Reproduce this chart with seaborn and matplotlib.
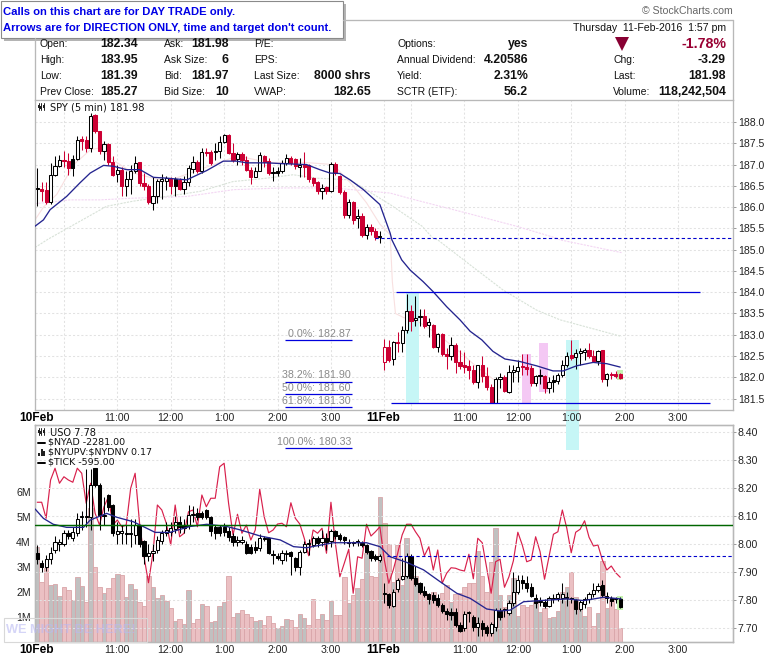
import numpy as np
import pandas as pd
import seaborn as sns
import matplotlib
matplotlib.use("Agg")
import matplotlib.pyplot as plt
from matplotlib.patches import Rectangle

# SPY 5 min bars, 10 Feb then 11 Feb
spy_open = [186.43,186.41,186.41,186.12,186.75,186.97,187.10,187.08,187.13,187.13,187.58,187.58,187.39,188.17,187.78,187.31,187.49,187.06,186.78,186.88,
            186.49,186.66,186.84,187.06,186.57,186.50,186.10,186.25,186.62,186.62,186.66,186.66,186.64,186.43,186.60,186.90,187.05,186.84,187.29,187.30,
            187.30,187.33,187.54,187.70,187.27,187.12,187.25,187.10,186.88,186.70,186.86,187.20,187.09,186.82,186.84,186.84,187.04,187.16,187.13,186.95,
            187.00,186.98,186.68,186.58,186.37,186.48,186.38,187.02,186.72,186.36,185.82,186.13,185.74,185.78,185.35,185.53,185.43,185.33,
            182.35,182.71,182.43,182.84,182.80,183.10,183.55,183.35,183.41,183.44,183.22,183.22,182.72,183.02,182.55,182.50,182.75,182.35,182.28,182.27,
            182.16,181.90,182.28,182.03,181.77,181.39,181.96,182.00,181.65,182.12,182.14,182.27,182.25,182.23,181.86,182.04,182.03,181.76,181.92,181.92,
            182.05,182.29,182.53,182.47,182.58,182.59,182.65,182.49,182.39,182.63,181.96,182.08,182.08,182.07]
spy_close = [186.43,186.39,186.11,186.76,186.97,187.10,187.08,186.92,186.92,187.58,187.56,187.39,188.15,187.78,187.31,187.49,187.06,186.76,186.88,186.49,
             186.66,186.84,187.04,186.57,186.49,186.11,186.25,186.62,186.65,186.68,186.49,186.49,186.43,186.60,186.92,187.05,186.84,187.29,187.26,187.04,
             187.33,187.54,187.70,187.27,187.11,187.24,187.10,186.88,186.70,186.86,187.23,187.07,186.79,186.79,186.79,187.04,187.15,187.04,186.96,187.00,
             186.95,186.67,186.57,186.37,186.46,186.38,187.02,186.80,186.35,185.82,186.13,185.69,185.78,185.35,185.53,185.43,185.30,185.30,
             182.71,182.41,182.82,182.80,183.10,183.56,183.33,183.39,183.45,183.21,183.31,182.72,183.01,182.55,182.49,182.75,182.35,182.27,182.25,182.16,
             181.90,182.28,182.02,181.77,181.39,181.96,182.00,181.67,182.12,182.16,182.25,182.24,182.20,181.86,182.02,182.02,181.76,181.90,181.90,182.05,
             182.28,182.49,182.45,182.57,182.60,182.63,182.49,182.39,182.61,181.96,182.07,182.05,182.03,181.98]
spy_high = [186.92,186.60,186.60,187.04,187.19,187.23,187.31,187.26,187.22,187.66,187.66,187.66,188.20,188.19,187.80,187.55,187.50,187.20,187.00,186.95,
            186.85,187.00,187.20,187.07,186.80,186.55,186.70,186.66,186.78,186.72,186.70,186.70,186.68,186.72,187.00,187.20,187.10,187.40,187.38,187.35,
            187.50,187.68,187.72,187.72,187.50,187.30,187.30,187.20,186.95,186.95,187.30,187.22,187.15,186.95,186.95,187.10,187.25,187.20,187.15,187.15,
            187.30,187.02,186.70,186.62,186.55,186.50,187.05,187.05,186.75,186.40,186.20,186.15,185.95,185.85,185.60,185.60,185.50,185.45,
            182.90,182.87,182.85,183.07,183.20,183.95,183.70,183.90,183.60,183.60,183.40,183.25,183.05,183.05,182.70,182.95,182.80,182.65,182.60,182.40,
            182.30,182.30,182.50,182.25,181.85,182.00,182.10,182.05,182.30,182.30,182.40,182.55,182.55,182.30,182.05,182.20,182.05,182.00,182.05,182.10,
            182.40,182.60,182.87,182.67,182.68,182.70,182.80,182.65,182.65,182.65,182.10,182.12,182.15,182.10]
spy_low = [186.02,186.15,186.08,186.08,186.72,186.95,186.95,186.76,186.72,187.10,187.35,187.30,187.30,187.75,187.25,187.10,187.00,186.72,186.60,186.25,
           186.25,186.30,186.80,186.50,186.40,186.08,185.93,186.10,186.20,186.40,186.30,186.25,186.40,186.30,186.50,186.80,186.80,186.80,187.20,187.00,
           187.10,187.15,187.50,187.25,187.05,187.00,187.00,186.85,186.55,186.70,186.85,186.95,186.75,186.62,186.72,186.80,187.00,187.00,186.90,186.70,
           186.70,186.60,186.50,186.30,186.20,186.30,186.35,186.75,186.30,185.75,185.75,185.60,185.50,185.30,185.25,185.35,185.22,185.15,
           182.16,182.35,182.30,182.60,182.60,183.05,183.08,183.20,183.20,183.15,182.95,182.70,182.60,182.50,182.20,182.40,182.10,182.20,182.10,181.95,
           181.85,181.75,181.90,181.70,181.39,181.39,181.75,181.65,181.62,181.90,181.90,182.05,182.05,181.80,181.80,181.85,181.62,181.62,181.65,181.85,
           182.00,182.25,182.40,182.20,182.30,182.40,182.45,182.35,182.30,181.90,181.80,181.95,181.98,181.95]

# moving averages on the SPY panel, bar position and price
spy_ma_x = [-0.5,1.4,2.9,6.6,9.6,11.9,14.9,17.1,20.1,23.1,26.1,29.1,33.6,38.1,41.8,44.8,47.1,51.6,55.3,60.5,63.5,65.8,68.0,70.3,73.3,77.0,79.3,
            79.7,81.9,83.8,86.7,88.9,92,95,97.3,99.9,102.4,105.1,108.5,112.2,115.9,118.2,121.2,124.9,128,131]
spy_ma_y = [185.55,185.70,185.94,186.25,186.57,186.80,186.98,186.96,186.88,186.88,186.70,186.68,186.64,186.86,187.08,187.08,187.04,187.04,187.02,187.00,186.88,186.80,186.79,186.64,186.41,186.06,185.39,
            185.23,184.76,184.52,184.25,184.02,183.66,183.35,183.08,182.88,182.61,182.43,182.37,182.27,182.15,182.15,182.27,182.35,182.32,182.24]
long_pink_x = [-0.5,7.4,14.1,21.6,33.6,44.1,55.3,66.5,79.3,83.8,96.5,107.7,116.7,117.5,131.3]
long_pink_y = [186.08,186.17,186.17,186.21,186.25,186.41,186.45,186.45,186.33,186.20,185.86,185.55,185.27,185.23,184.93]
long_grey_x = [-0.5,2.5,15.6,21.6,29,36.6,44,51.6,57.5,62.8,70.3,79.3,86.5,88.9,90,97.3,104.7,112.2,117.5,131.3]
long_grey_y = [185.05,185.25,186.02,186.14,186.25,186.37,186.60,186.68,186.76,186.68,186.64,186.06,185.55,185.27,185.23,184.64,184.05,183.58,183.35,182.96]
fast_x = [-0.5,1.4,4.4,8.2,12,14.1,17.1,21.6,29,37,45,52,60,66.5,71,74,77,79.3,79.8,80.5,82.4,84.5,89.5,94.9,98.7,103.2]
fast_y = [185.70,186.00,186.30,187.00,187.35,187.39,187.10,186.80,186.60,186.90,187.20,187.05,187.05,187.00,186.50,186.10,185.60,185.35,184.25,183.50,183.40,183.38,183.05,182.60,182.25,181.90]

# USO bars for the lower panel
uso_open = [7.970,7.931,7.917,7.947,7.980,8.000,8.000,8.039,8.021,8.039,8.098,8.098,8.098,8.271,8.212,8.100,8.176,8.140,8.036,8.040,
            8.036,8.036,8.033,8.069,8.011,7.959,7.967,7.979,8.012,8.040,8.045,8.053,8.080,8.069,8.066,8.103,8.110,8.110,8.122,8.096,
            8.063,8.063,8.063,8.048,8.029,8.009,8.009,8.000,7.991,7.989,7.985,8.021,8.021,7.961,7.959,7.943,7.964,7.971,7.949,7.919,
            7.973,8.000,7.997,8.021,8.009,8.023,8.011,8.048,8.033,8.027,8.005,8.005,8.007,8.005,7.997,7.976,7.959,7.943,7.820,7.820,
            7.780,7.838,7.875,7.887,7.959,7.878,7.860,7.832,7.820,7.818,7.806,7.782,7.761,7.758,7.758,7.710,7.699,7.752,7.740,7.702,
            7.719,7.702,7.681,7.702,7.761,7.764,7.753,7.788,7.830,7.872,7.860,7.848,7.809,7.794,7.794,7.780,7.804,7.809,7.809,7.806,
            7.804,7.800,7.767,7.786,7.803,7.822,7.836,7.854,7.806,7.809,7.803,7.804]
uso_close = [7.947,7.917,7.947,7.970,8.009,8.009,8.039,8.029,8.045,8.089,8.098,8.100,8.212,8.212,8.104,8.100,8.134,8.039,8.048,8.048,
             8.037,8.038,8.069,8.000,7.959,7.967,7.977,8.015,8.039,8.051,8.057,8.080,8.060,8.057,8.104,8.107,8.098,8.098,8.096,8.048,
             8.039,8.039,8.045,8.027,8.009,8.009,8.010,7.970,7.970,7.980,8.023,8.017,7.970,7.962,7.949,7.970,7.970,7.959,7.919,7.973,
             8.000,8.000,8.021,8.005,8.021,8.009,8.048,8.029,8.018,8.015,8.006,8.003,8.006,7.997,7.971,7.949,7.947,7.959,7.820,7.782,
             7.830,7.872,7.887,7.959,7.878,7.857,7.830,7.818,7.803,7.800,7.782,7.761,7.750,7.747,7.710,7.690,7.750,7.752,7.702,7.717,
             7.695,7.681,7.713,7.764,7.740,7.764,7.791,7.830,7.872,7.860,7.842,7.816,7.791,7.794,7.780,7.806,7.804,7.821,7.821,7.806,
             7.803,7.767,7.794,7.803,7.820,7.836,7.852,7.818,7.816,7.798,7.804,7.776]
uso_high = [7.997,7.945,7.960,7.990,8.030,8.020,8.050,8.050,8.060,8.110,8.120,8.270,8.270,8.271,8.220,8.170,8.180,8.145,8.080,8.070,
            8.070,8.090,8.090,8.070,8.015,8.000,8.000,8.030,8.050,8.080,8.080,8.100,8.100,8.090,8.140,8.135,8.130,8.120,8.125,8.100,
            8.070,8.070,8.075,8.060,8.040,8.030,8.030,8.010,8.000,8.010,8.035,8.030,8.025,7.980,7.970,7.980,7.980,7.975,7.955,7.980,
            8.010,8.020,8.030,8.030,8.050,8.040,8.055,8.050,8.040,8.030,8.020,8.010,8.020,8.010,8.000,7.980,7.965,7.965,7.860,7.825,
            7.840,7.880,7.950,7.970,7.965,7.920,7.865,7.850,7.825,7.830,7.820,7.790,7.770,7.770,7.770,7.720,7.760,7.760,7.745,7.740,
            7.730,7.710,7.720,7.770,7.770,7.770,7.800,7.900,7.890,7.890,7.885,7.860,7.820,7.810,7.805,7.815,7.820,7.830,7.860,7.830,
            7.810,7.805,7.800,7.810,7.830,7.860,7.860,7.870,7.830,7.815,7.810,7.810]
uso_low = [7.930,7.900,7.905,7.930,7.970,7.975,7.995,8.020,8.010,8.030,8.050,8.060,8.050,8.205,8.050,8.070,8.120,8.030,8.000,8.000,
           8.000,7.990,8.000,7.990,7.930,7.940,7.940,7.970,8.000,8.030,8.030,8.040,8.040,8.040,8.055,8.080,8.085,8.090,8.090,8.030,
           8.020,8.030,8.030,8.010,7.995,7.995,8.000,7.965,7.965,7.970,7.975,8.010,7.965,7.930,7.945,7.930,7.940,7.890,7.905,7.890,
           7.970,7.960,7.990,7.990,7.995,7.980,7.990,8.020,8.010,8.000,7.990,7.995,7.995,7.990,7.965,7.940,7.940,7.935,7.790,7.770,
           7.775,7.830,7.870,7.880,7.870,7.850,7.820,7.810,7.785,7.790,7.775,7.755,7.730,7.730,7.705,7.685,7.690,7.720,7.690,7.670,
           7.670,7.670,7.670,7.690,7.730,7.740,7.745,7.780,7.820,7.840,7.830,7.810,7.770,7.780,7.770,7.775,7.790,7.795,7.790,7.780,
           7.790,7.750,7.760,7.770,7.790,7.810,7.830,7.810,7.790,7.780,7.790,7.770]
uso_ma_x = [-0.5,1.4,3.6,6.6,10.4,11.9,15.6,17.9,21.6,23.8,26.5,29.8,34.3,38.1,42.6,45.6,50.1,54.6,57.6,60.5,66.5,71,74,77,79.3,
            83.0,86.8,90.5,94.3,97.3,101,104,106.3,109.3,113,119,122.8,127.3,131.2]
uso_ma_y = [8.126,8.092,8.071,8.060,8.060,8.086,8.110,8.096,8.080,8.063,8.042,8.042,8.063,8.071,8.063,8.051,8.029,8.015,7.991,7.987,8.005,8.005,8.005,7.991,7.955,
            7.935,7.908,7.866,7.824,7.806,7.768,7.761,7.764,7.794,7.798,7.804,7.798,7.810,7.804]

# volume in millions, 1 where the bar is pink
volume = [3.79,2.39,2.95,2.28,2.31,1.84,2.19,2.08,1.68,2.59,2.25,1.59,5.35,3.01,2.19,1.95,2.15,2.55,2.71,2.68,
          1.81,2.31,2.11,1.61,1.45,2.65,2.19,1.75,1.88,1.65,1.35,0.85,0.91,0.72,2.08,0.75,0.91,1.52,1.45,0.81,
          0.84,1.44,1.59,2.64,1.01,1.15,1.28,1.12,0.99,0.83,0.88,0.67,1.04,0.75,0.55,0.64,0.91,0.88,0.59,1.11,
          0.95,0.68,1.71,0.91,1.12,0.88,1.63,1.07,1.07,2.59,1.55,1.87,2.15,2.51,3.55,2.64,2.59,5.79,4.75,3.92,
          2.41,3.88,2.28,4.15,2.55,2.64,2.01,1.95,1.75,2.01,1.68,1.95,2.28,1.61,1.91,1.95,2.21,2.35,2.37,3.64,
          2.64,2.01,3.19,4.56,1.88,1.41,1.88,2.57,1.04,1.48,1.41,1.48,1.61,1.21,1.35,0.95,1.01,1.24,2.01,2.19,
          2.79,1.79,1.41,1.04,1.39,0.65,1.15,3.24,1.35,1.68,1.31,0.55]
volume_pink = [0,1,1,0,0,0,1,1,0,0,0,1,0,1,1,0,1,1,0,1,
               0,0,0,1,1,1,0,0,0,0,1,0,1,0,0,1,1,0,1,0,
               0,0,0,1,1,0,1,1,1,0,0,1,1,1,0,0,0,1,1,0,
               0,1,1,1,0,1,0,1,1,1,0,1,0,1,0,1,1,0,1,1,
               0,1,0,0,1,0,1,1,0,1,1,1,1,0,1,1,1,1,1,0,
               1,1,1,0,0,1,0,0,0,1,1,1,0,0,1,0,0,0,0,0,
               1,0,0,0,1,1,0,1,0,1,1,1]

# red overlay line, drawn against the volume scale
tick_line = [5.59,5.59,4.95,6.48,6.95,6.35,6.61,6.48,6.39,6.95,6.75,5.55,6.35,5.15,4.68,5.41,5.81,4.68,4.88,4.61,
             4.68,6.15,6.75,4.75,3.41,2.37,3.55,5.48,5.28,4.75,3.88,5.48,4.21,4.35,5.21,5.28,4.61,5.88,5.41,5.75,
             5.75,7.01,7.15,5.55,4.28,5.11,4.35,4.68,4.08,4.48,6.11,5.01,4.37,4.48,4.72,4.75,4.61,5.57,4.95,4.72,
             4.15,3.45,4.48,4.35,4.55,3.55,5.59,3.95,2.61,3.15,3.71,1.95,3.41,3.35,4.71,4.24,4.41,4.61,3.28,2.35,
             2.88,3.55,4.28,4.71,4.71,4.41,4.15,3.45,3.81,2.88,3.68,2.35,2.75,2.97,2.95,2.88,2.84,3.51,2.53,4.15,
             3.97,2.95,1.95,3.21,3.31,2.19,2.61,3.25,4.39,3.88,3.21,3.28,4.21,3.61,2.51,3.41,4.31,4.41,5.28,4.55,
             3.57,4.39,4.51,4.85,4.19,3.84,3.88,3.28,2.88,3.04,2.77,2.59]

spy_ticks = [181.5,182.0,182.5,183.0,183.5,184.0,184.5,185.0,185.5,186.0,186.5,187.0,187.5,188.0]
uso_ticks = [7.70,7.80,7.90,8.00,8.10,8.20,8.30,8.40]
vol_ticks = [1,2,3,4,5,6]
time_bars = [18,30,42,54,66,96,108,120,132,144]
time_labels = ["11:00","12:00","1:00","2:00","3:00","11:00","12:00","1:00","2:00","3:00"]
day_bars = [0,78]
day_labels = ["10Feb","11Feb"]
grid_bars = [6,18,30,42,54,66,78,84,96,108,120,132,144]

fib_levels = [182.87,181.90,181.60,181.30,180.33]
fib_labels = ["0.0%: 182.87","38.2%: 181.90","50.0%: 181.60","61.8%: 181.30","100.0%: 180.33"]

band_left = [82.9,118.8,108.9,112.8,130.3]
band_right = [85.8,121.7,110.9,114.8,131.7]
band_low = [181.39,180.30,181.39,181.65,181.94]
band_high = [184.0,182.87,182.55,182.80,182.17]
band_colors = ["#c6f6f6","#c6f6f6","#f4c8f4","#f4c8f4","#c4f2b0"]

header_cols = [
    (40, 138, ["Open:","High:","Low:","Prev Close:"], ["182.34","183.95","181.39","185.27"]),
    (164, 229, ["Ask:","Ask Size:","Bid:","Bid Size:"], ["181.98","6","181.97","10"]),
    (254, 371, ["P/E:","EPS:","Last Size:","VWAP:"], ["","","8000 shrs","182.65"]),
    (397, 528, ["Options:","Annual Dividend:","Yield:","SCTR (ETF):"], ["yes","4.20586","2.31%","56.2"]),
    (613, 726, ["","Chg:","Last:","Volume:"], ["","-3.29","181.98","118,242,504"]),
]
header_rows = [44,60,76,92]

sns.set_theme(style="white")
plt.rcParams['font.family'] = ['Liberation Sans', 'DejaVu Sans']
plt.rcParams['axes.linewidth'] = 0.95
plt.rcParams['axes.edgecolor'] = '#b8b8b8'

W, H = 780, 659
fig = plt.figure(figsize=(W/100, H/100), dpi=100, facecolor='white')


def px_axes(left, top, right, bottom, **kw):
    return fig.add_axes([left/W, 1-bottom/H, (right-left)/W, (bottom-top)/H], **kw)


def candles(ax, o, c, h, l, up_color, down_color, min_body, lw=0.75):
    o, c, h, l = map(np.array, (o, c, h, l))
    x = np.arange(len(o))
    prev = np.r_[o[0], c[:-1]]
    col = np.where(c >= prev, up_color, down_color)
    ax.vlines(x, l, h, colors=col, lw=lw, zorder=3)
    for i in x:
        bottom = min(o[i], c[i])
        height = max(abs(c[i]-o[i]), min_body)
        # solid when it closed under its open, hollow otherwise
        face = col[i] if c[i] < o[i] else 'white'
        ax.bar(i, height, bottom=bottom, width=0.72, color=face, edgecolor=col[i], lw=lw, zorder=4)


grid_style = dict(color='#e2e2e2', ls=(0, (2, 2)), lw=0.75)

# top panel
ax_top = px_axes(35, 100, 733, 410, zorder=3)
ax_top.set_facecolor('none')
for i in range(len(band_left)):
    ax_top.bar((band_left[i]+band_right[i])/2, band_high[i]-band_low[i], bottom=band_low[i],
               width=band_right[i]-band_left[i], color=band_colors[i], lw=0, zorder=1, clip_on=False)
sns.lineplot(x=long_pink_x, y=long_pink_y, ax=ax_top, color='#f3d6f3', lw=0.8, ls=(0, (2, 1)), zorder=2, errorbar=None)
sns.lineplot(x=long_grey_x, y=long_grey_y, ax=ax_top, color='#d8e2d8', lw=0.8, ls=(0, (2, 1)), zorder=2, errorbar=None)
sns.lineplot(x=fast_x, y=fast_y, ax=ax_top, color='#f8e0e0', lw=0.8, zorder=2, errorbar=None)
candles(ax_top, spy_open, spy_close, spy_high, spy_low, 'black', '#cc0033', 0.03)
sns.lineplot(x=spy_ma_x, y=spy_ma_y, ax=ax_top, color='#24248f', lw=0.95, zorder=5, errorbar=None)

ax_top.hlines(185.27, 76, 156.35, color='#0000cc', lw=0.8, ls=(0, (3, 2.2)), zorder=5)
ax_top.hlines(184.0, 80.6, 149, color='#0000dd', lw=0.9, zorder=5)
ax_top.hlines(181.39, 79.6, 151.2, color='#0000dd', lw=0.9, zorder=5)
for lev, lab in zip(fib_levels, fib_labels):
    ax_top.hlines(lev, 55.7, 70.8, color='#0000dd', lw=0.9, zorder=5, clip_on=False)
    ax_top.annotate(lab, (70.5, lev), xytext=(0, 1), textcoords='offset points', ha='right', va='bottom',
                    fontsize=7.7, color='#8a8a8a', annotation_clip=False, zorder=6)

ax_top.set_xlim(-0.5, 156.35)
ax_top.set_ylim(188-288/42.55, 188+22/42.55)
ax_top.set_xticks(grid_bars)
ax_top.set_xticklabels([])
ax_top.yaxis.tick_right()
ax_top.set_yticks(spy_ticks)
ax_top.set_yticklabels([f"{t:.1f}" for t in spy_ticks], fontsize=7.6, color='#222222')
ax_top.tick_params(axis='y', length=2, width=0.7, color='#999999', pad=1.5)
ax_top.tick_params(axis='x', length=0)
ax_top.grid(True, **grid_style)
ax_top.set_axisbelow(True)
ax_top.set(xlabel='', ylabel='')

# lower panel, volume with left scale and USO with right scale
ax_vol = px_axes(35, 425, 733, 642, zorder=1)
vol_df = pd.DataFrame({'bar': np.arange(len(volume)), 'vol': volume,
                       'kind': ['pink' if p else 'grey' for p in volume_pink]})
sns.barplot(data=vol_df, x='bar', y='vol', hue='kind', native_scale=True, dodge=False, ax=ax_vol,
            palette={'grey': '#c0c0c0', 'pink': '#ebc0c3'}, saturation=1, width=1.0, errorbar=None, legend=False)
for patch in ax_vol.patches:
    is_pink = patch.get_facecolor()[1] < 0.76
    patch.set_edgecolor('#d9a5a9' if is_pink else '#a6a6a6')
    patch.set_linewidth(0.6)
sns.lineplot(x=np.arange(len(tick_line)), y=tick_line, ax=ax_vol, color='#d8204c', lw=0.85, zorder=5, errorbar=None)
ax_vol.set_xlim(-0.5, 156.35)
ax_vol.set_ylim(0, 217/25)
ax_vol.set_yticks(vol_ticks)
ax_vol.set_yticklabels([f"{v}M" for v in vol_ticks], fontsize=7.6, color='#222222')
ax_vol.set_xticks(grid_bars)
ax_vol.set_xticklabels([])
ax_vol.tick_params(length=0, pad=3)
ax_vol.set(xlabel='', ylabel='')

ax_uso = ax_vol.twinx()
ax_uso.set_zorder(2)
ax_uso.patch.set_visible(False)
ax_uso.bar(131, 7.815-7.765, bottom=7.765, width=1.4, color='#c4f2b0', lw=0, zorder=1)
candles(ax_uso, uso_open, uso_close, uso_high, uso_low, 'black', 'black', 0.004)
sns.lineplot(x=uso_ma_x, y=uso_ma_y, ax=ax_uso, color='#24248f', lw=0.95, zorder=5, errorbar=None)
ax_uso.axhline(8.07, color='#006600', lw=1.05, zorder=5)
ax_uso.hlines(7.958, 78.5, 156.35, color='#0000cc', lw=0.8, ls=(0, (3, 2.2)), zorder=5)
ax_uso.set_xlim(-0.5, 156.35)
ax_uso.set_ylim(7.70-14/279.5, 8.40+7.3/279.5)
ax_uso.set_yticks(uso_ticks)
ax_uso.set_yticklabels([f"{t:.2f}" for t in uso_ticks], fontsize=7.6, color='#222222')
ax_uso.tick_params(axis='y', length=2, width=0.7, color='#999999', pad=1.5)
ax_uso.set_xticks(grid_bars)
ax_uso.set_xticklabels([])
ax_uso.tick_params(axis='x', length=0)
ax_uso.grid(True, **grid_style)
ax_uso.set_axisbelow(True)
ax_uso.set(xlabel='', ylabel='')

# everything else sits on a full figure overlay in pixel units
ov = fig.add_axes([0, 0, 1, 1], zorder=5)
ov.set_xlim(0, W)
ov.set_ylim(H, 0)
ov.axis('off')
ov.patch.set_visible(False)


def bar_px(i):
    return 35 + 4.45*(i+0.5)


for y_lab in (418, 650):
    for b, lab in zip(time_bars, time_labels):
        ov.text(bar_px(b), y_lab, lab, ha='center', va='center', fontsize=7.6, color='#222222')
    for b, lab in zip(day_bars, day_labels):
        ov.text(bar_px(b)-1, y_lab, lab, ha='center', va='center', fontsize=8.6, fontweight='bold', color='black')

# header frame
ov.plot([35, 35], [38, 100], color='#b8b8b8', lw=0.95)
ov.plot([343, 733], [19.5, 19.5], color='#b8b8b8', lw=0.95)
ov.plot([733, 733], [19.5, 100], color='#b8b8b8', lw=0.95)
for left, right, labs, vals in header_cols:
    for y, lab, val in zip(header_rows, labs, vals):
        ov.text(left, y, lab, ha='left', va='center', fontsize=7.5, color='#111111')
        ov.text(right, y, val, ha='right', va='center', fontsize=8.8, fontweight='bold', color='#111111')
ov.text(726, 28, "Thursday  11-Feb-2016  1:57 pm", ha='right', va='center', fontsize=7.6, color='#111111')
ov.text(726, 44, "-1.78%", ha='right', va='center', fontsize=10.2, fontweight='bold', color='#990033')
ov.plot([621.7], [43.5], marker='v', ms=10, color='#880033', mew=0, ls='none')
ov.text(733, 11.5, "© StockCharts.com", ha='right', va='center', fontsize=7.6, color='#666666')

# callout
ov.add_patch(Rectangle((4, 4), 342, 37, facecolor='#b4b4b4', edgecolor='none'))
ov.add_patch(Rectangle((1, 1), 342, 37, facecolor='white', edgecolor='#8a8a8a', lw=0.8))
ov.text(3, 12, "Calls on this chart are for DAY TRADE only.", ha='left', va='center', fontsize=8.1, fontweight='bold', color='#0000e6')
ov.text(3, 28, "Arrows are for DIRECTION ONLY, time and target don't count.", ha='left', va='center', fontsize=8.1, fontweight='bold', color='#0000e6')

# legends
legend_font = dict(ha='left', va='center', family='DejaVu Sans', color='#111111')
ov.text(49.5, 107.5, "SPY (5 min) 181.98", fontsize=7.1, **legend_font)
ov.text(49.5, 432.5, "USO 7.78", fontsize=7.1, **legend_font)
ov.text(48, 442.5, r"\$NYAD -2281.00", fontsize=6.8, **legend_font)
ov.text(48, 452.5, r"\$NYUPV:\$NYDNV 0.17", fontsize=6.8, **legend_font)
ov.text(48, 462.5, r"\$TICK -595.00", fontsize=6.8, **legend_font)
for y0 in (107, 432):
    for k, xk in enumerate((38.5, 41, 43.5)):
        ov.plot([xk, xk], [y0-4, y0+3], color='#222222', lw=0.7)
        ov.add_patch(Rectangle((xk-1, y0-2+k % 2), 2, 3, facecolor='#222222', edgecolor='none'))
for y0 in (442.5, 462.5):
    ov.plot([38, 45], [y0, y0], color='black', lw=1.4)
for k, xk in enumerate((38, 40.5, 43)):
    ov.add_patch(Rectangle((xk, 456-(3, 7, 5)[k]), 2, (3, 7, 5)[k], facecolor='#222222', edgecolor='none'))

# watermark
ov.add_patch(Rectangle((3.5, 618), 143, 24, facecolor='none', edgecolor='#d8d8d8', lw=0.8))
ov.text(6, 630, "WE MIGHT BE HERE!", ha='left', va='center', fontsize=9.2, fontweight='bold', color='#b9b9f2', alpha=0.6)

fig.savefig("out.png", dpi=100)
